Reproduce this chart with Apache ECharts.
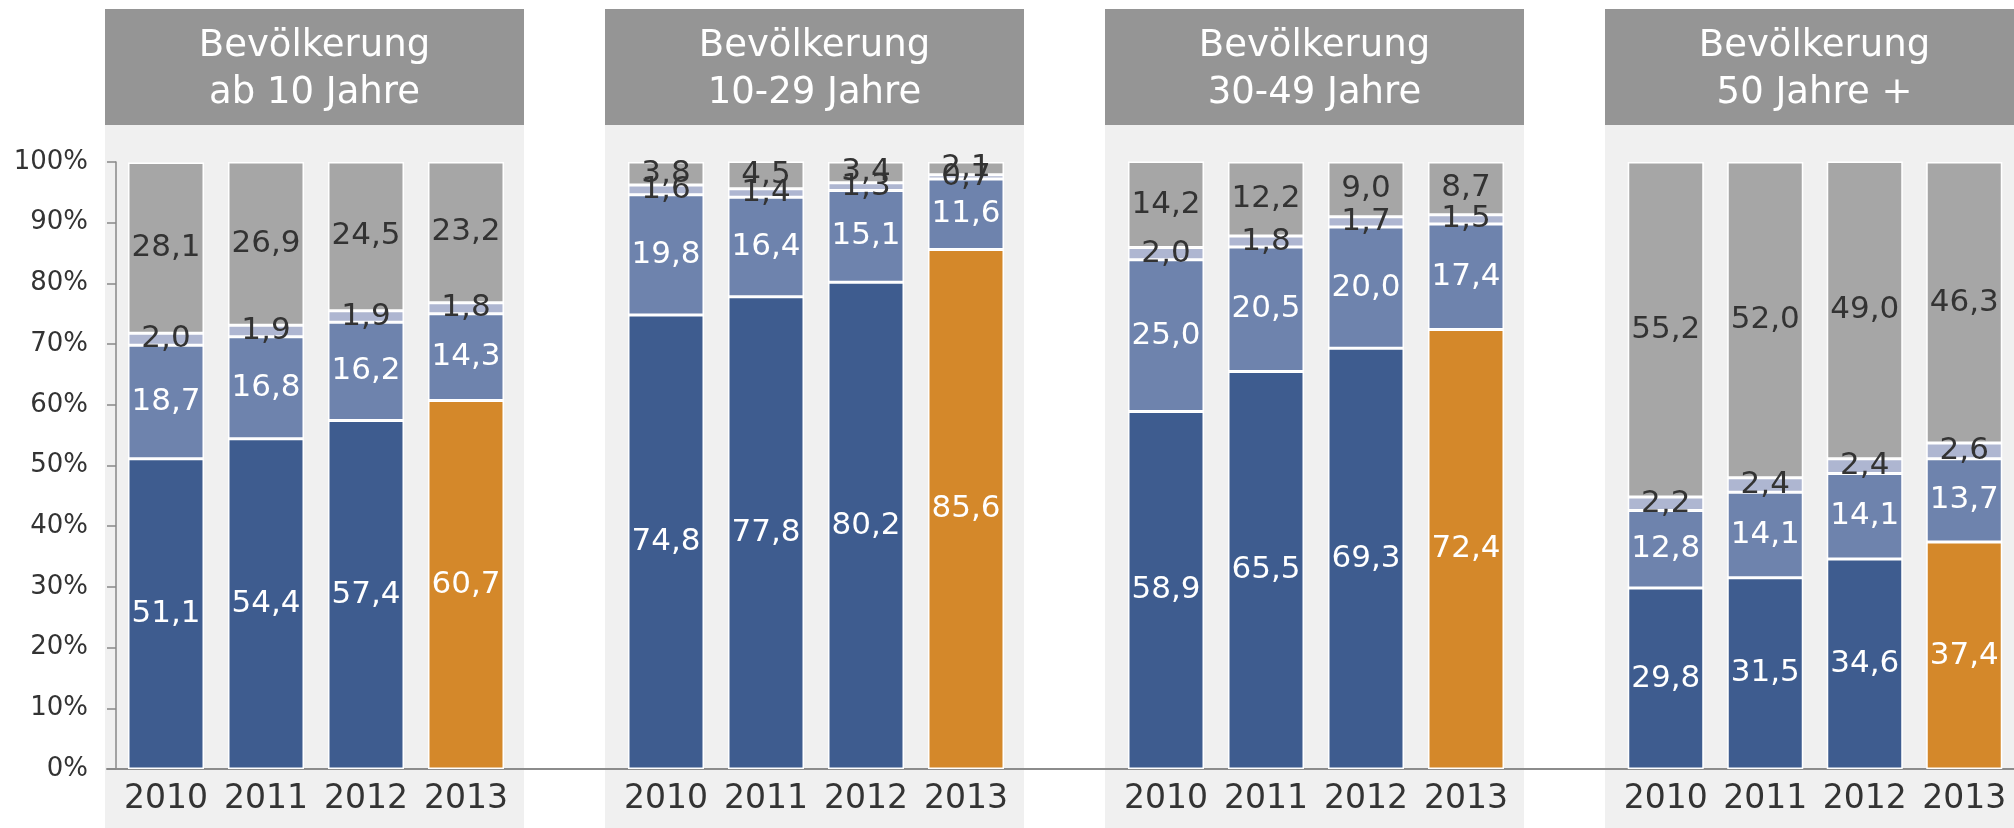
<!DOCTYPE html>
<html>
<head>
<meta charset="utf-8">
<title>Bevölkerung</title>
<script src="https://cdn.jsdelivr.net/npm/echarts@6/dist/echarts.min.js"></script>
<style>
  html, body { margin: 0; padding: 0; background: #fff; }
  #chart { width: 2014px; height: 828px; }
</style>
</head>
<body>
<div id="chart"></div>
<script>
// Jahre und Panel-Titel
const years = ['2010', '2011', '2012', '2013']
const titles = [
  'Bevölkerung\nab 10 Jahre',
  'Bevölkerung\n10-29 Jahre',
  'Bevölkerung\n30-49 Jahre',
  'Bevölkerung\n50 Jahre +'
]
const yTicks = [0, 10, 20, 30, 40, 50, 60, 70, 80, 90, 100]

// Anteile je Panel (unten -> oben)
const ab10Seg1 = [51.1, 54.4, 57.4, 60.7]
const ab10Seg2 = [18.7, 16.8, 16.2, 14.3]
const ab10Seg3 = [2.0, 1.9, 1.9, 1.8]
const ab10Seg4 = [28.1, 26.9, 24.5, 23.2]

const j1029Seg1 = [74.8, 77.8, 80.2, 85.6]
const j1029Seg2 = [19.8, 16.4, 15.1, 11.6]
const j1029Seg3 = [1.6, 1.4, 1.3, 0.7]
const j1029Seg4 = [3.8, 4.5, 3.4, 2.1]

const j3049Seg1 = [58.9, 65.5, 69.3, 72.4]
const j3049Seg2 = [25.0, 20.5, 20.0, 17.4]
const j3049Seg3 = [2.0, 1.8, 1.7, 1.5]
const j3049Seg4 = [14.2, 12.2, 9.0, 8.7]

const j50Seg1 = [29.8, 31.5, 34.6, 37.4]
const j50Seg2 = [12.8, 14.1, 14.1, 13.7]
const j50Seg3 = [2.2, 2.4, 2.4, 2.6]
const j50Seg4 = [55.2, 52.0, 49.0, 46.3]

const panels = [
  [ab10Seg1, ab10Seg2, ab10Seg3, ab10Seg4],
  [j1029Seg1, j1029Seg2, j1029Seg3, j1029Seg4],
  [j3049Seg1, j3049Seg2, j3049Seg3, j3049Seg4],
  [j50Seg1, j50Seg2, j50Seg3, j50Seg4]
]

const FONT = '"DejaVu Sans", "Open Sans", sans-serif'
const segColors = ['#3e5c8f', '#6e83ad', '#aeb6d1', '#a6a6a6']
const labelColors = ['#ffffff', '#ffffff', '#333333', '#333333']
const highlight = '#d4882a'

const chart = echarts.init(document.getElementById('chart'))

const panelStep = 500
const gridLeft0 = 116
const grids = []
const xAxes = []
const yAxes = []
const series = []
const graphics = []

panels.forEach((segs, k) => {
  const left = gridLeft0 + panelStep * k
  grids.push({ left: left, width: 400, top: 162, bottom: 59 })
  xAxes.push({
    type: 'category',
    gridIndex: k,
    data: years,
    axisLine: { show: false },
    axisTick: { show: false },
    axisLabel: { interval: 0, fontSize: 33, color: '#333', fontFamily: FONT, margin: 14 }
  })
  yAxes.push({
    type: 'value',
    gridIndex: k,
    min: 0,
    max: 100,
    interval: 10,
    show: k === 0,
    axisLine: { show: true, lineStyle: { color: '#888', width: 1.5 } },
    axisTick: { show: true, length: 9, lineStyle: { color: '#888', width: 1.5 } },
    splitLine: { show: false },
    axisLabel: {
      fontSize: 26,
      color: '#333',
      fontFamily: FONT,
      margin: 28,
      formatter: v => yTicks.includes(v) ? v + '%' : ''
    }
  })
  segs.forEach((vals, s) => {
    series.push({
      type: 'bar',
      xAxisIndex: k,
      yAxisIndex: k,
      stack: 'p' + k,
      barWidth: 76,
      data: vals.map((v, i) => (s === 0 && i === 3) ? { value: v, itemStyle: { color: highlight } } : v),
      itemStyle: { color: segColors[s], borderColor: '#ffffff', borderWidth: 1.5 },
      label: {
        show: true,
        position: 'inside',
        fontSize: 31,
        fontFamily: FONT,
        color: labelColors[s],
        formatter: p => p.value.toFixed(1).replace('.', ',')
      },
      emphasis: { disabled: true },
      animation: false
    })
  })

  // Panel-Hintergrund und Kopfzeile
  const bx = 105 + panelStep * k
  graphics.push({
    type: 'rect', z: -10, silent: true,
    shape: { x: bx, y: 125, width: 419, height: 703 },
    style: { fill: '#f0f0f0' }
  })
  graphics.push({
    type: 'rect', z: -10, silent: true,
    shape: { x: bx, y: 9, width: 419, height: 116 },
    style: { fill: '#959595' }
  })
  graphics.push({
    type: 'text', z: 10, silent: true,
    x: bx + 209.5, y: 70,
    style: {
      text: titles[k],
      fill: '#ffffff',
      font: '37px ' + FONT,
      lineHeight: 47,
      textAlign: 'center',
      textVerticalAlign: 'middle'
    }
  })
})

// durchgehende Grundlinie
grids.push({ left: 107, right: 0, top: 162, bottom: 59 })
xAxes.push({
  type: 'value', gridIndex: 4, min: 0, max: 1,
  axisLine: { show: true, onZero: true, lineStyle: { color: '#8c8c8c', width: 2 } },
  axisTick: { show: false }, axisLabel: { show: false }, splitLine: { show: false }
})
yAxes.push({ type: 'value', gridIndex: 4, min: 0, max: 100, show: false })

chart.setOption({
  animation: false,
  backgroundColor: '#ffffff',
  grid: grids,
  xAxis: xAxes,
  yAxis: yAxes,
  series: series,
  graphic: graphics
})
</script>
</body>
</html>
